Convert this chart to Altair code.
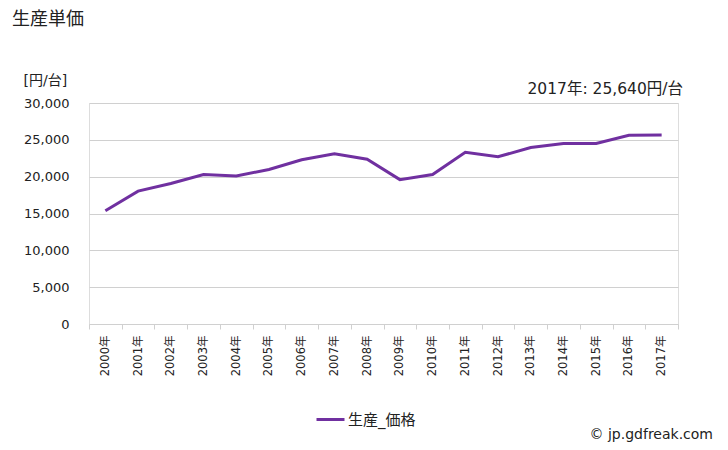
import altair as alt
import pandas as pd

years = [f"{y}年" for y in range(2000, 2018)]
values = [15380, 18040, 19080, 20300, 20100, 20970, 22300, 23100, 22360,
          19600, 20300, 23300, 22700, 23950, 24500, 24500, 25620, 25640]
series_name = "生産_価格"
title_text = "生産単価"
unit_text = "[円/台]"
annotation_text = "2017年: 25,640円/台"
credit_text = "© jp.gdfreak.com"

FONT = "DejaVu Sans, Noto Sans CJK JP"
PURPLE = "#7030a0"
TXT = "#222222"

df = pd.DataFrame({"year": years, "value": values, "series": series_name})

W, H = 589, 221

line = alt.Chart(df).mark_line(strokeWidth=3, color=PURPLE).encode(
    x=alt.X("year:O", sort=years,
            scale=alt.Scale(paddingInner=0, paddingOuter=0),
            axis=alt.Axis(title=None, labelAngle=270, labelAlign="right",
                          labelBaseline="middle", labelPadding=6,
                          labelFont=FONT, labelFontSize=11.5, labelColor=TXT,
                          tickBand="extent", tickSize=5, tickColor="#d0d0d0",
                          domainColor="#d0d0d0", grid=False)),
    y=alt.Y("value:Q",
            scale=alt.Scale(domain=[0, 30000]),
            axis=alt.Axis(values=[0, 5000, 10000, 15000, 20000, 25000, 30000],
                          format=",.0f", domain=False, ticks=False,
                          labelPadding=20, labelFont=FONT, labelFontSize=13,
                          labelColor=TXT,
                          gridColor="#d0d0d0", gridWidth=1,
                          title=unit_text, titleAngle=0, titleX=-66, titleY=-23,
                          titleAlign="left", titleBaseline="middle",
                          titleFont=FONT, titleFontSize=14, titleFontWeight="normal",
                          titleColor=TXT)),
    color=alt.Color("series:N",
                    scale=alt.Scale(domain=[series_name], range=[PURPLE]),
                    legend=alt.Legend(title=None, orient="none", legendX=226, legendY=301,
                                      symbolType="stroke", symbolSize=784,
                                      symbolStrokeWidth=3, labelFont=FONT,
                                      labelFontSize=15, labelColor=TXT,
                                      labelOffset=2)),
)

ann_df = pd.DataFrame({"t": [annotation_text]})
annotation = alt.Chart(ann_df).mark_text(
    align="right", baseline="middle", font=FONT, fontSize=15.5, color=TXT
).encode(text="t:N", x=alt.value(594), y=alt.value(-14))

credit_df = pd.DataFrame({"t": [credit_text]})
credit = alt.Chart(credit_df).mark_text(
    align="right", baseline="middle", font=FONT, fontSize=14, color=TXT
).encode(text="t:N", x=alt.value(624), y=alt.value(332))

title_df = pd.DataFrame({"t": [title_text]})
title = alt.Chart(title_df).mark_text(
    align="left", baseline="middle", font=FONT, fontSize=18, color=TXT
).encode(text="t:N", x=alt.value(-77), y=alt.value(-83))

chart = alt.layer(line, annotation, credit, title).properties(
    width=W, height=H,
    autosize=alt.AutoSizeParams(type="none"),
    padding={"left": 81, "top": 95, "right": 40, "bottom": 118},
).configure_view(stroke=None).configure(background="white")

chart.save("out.html", embed_options={"renderer": "svg", "actions": False})
